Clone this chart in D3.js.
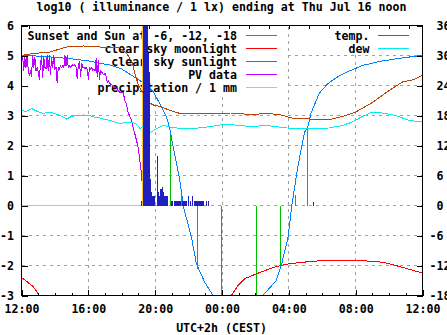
<!DOCTYPE html>
<html><head><meta charset="utf-8">
<script src="https://cdn.jsdelivr.net/npm/d3@7"></script>
<style>
body{margin:0;background:#fff}
svg{display:block}
text{font-family:"DejaVu Sans Mono",monospace;font-weight:bold;font-size:11.6px;fill:#000}
</style></head><body>
<svg id="c" width="447" height="335"></svg>
<script>
// ---------- data ----------
const titleText = "log10 ( illuminance / 1 lx) ending at Thu Jul 16 noon";
const xLabel = "UTC+2h (CEST)";
const xTickHours = [0,4,8,12,16,20,24];           // hours after 12:00
const xTickLabels = ["12:00","16:00","20:00","00:00","04:00","08:00","12:00"];
const xMinorHours = d3.range(0,25,1);
const yTicks = [-3,-2,-1,0,1,2,3,4,5,6];
const y2Ticks = [-18,-12,-6,0,6,12,18,24,30,36];
const gridHours = [4,8,12,16,20];
const gridVals = [-2,-1,0,1,2,3,4,5];
const x2Ticks = d3.range(0,20,1);

const legendLeft = ["Sunset and Sun at -6, -12, -18","clear sky moonlight","clear sky sunlight","PV data","precipitation / 1 mm"];
const legendLeftColors = ["#00c000","#ff0000","#0080ff","#c000ff","#ffc020"];
const legendRight = ["temp.","dew"];
const legendRightColors = ["#c04000","#00eeee"];

// sun events: sunset, -6, -12, -18 (evening) and -18, -12, -6, sunrise (morning)
const sunEventHours = [8.93,9.59,10.54,11.98,14.08,15.51,16.37,17.1];
const sunEventVals  = [2.52,0.34,-2.1,-3.5,-3.5,-2.03,0.34,2.63];

const moonHours = [0,0.35,0.7,1.07,1.6,12.2,12.56,12.96,13.36,14.05,14.85,15.49,16.04,17.23,18.2,19.2,20.22,21.61,22.6,23.8,24];
const moonVals  = [-2.4,-2.55,-2.7,-3.0,-3.5,-3.5,-3.0,-2.67,-2.44,-2.28,-2.11,-2.0,-1.94,-1.87,-1.83,-1.83,-1.83,-1.89,-2.03,-2.22,-2.25];

const sunHours = [0,1,2,3,4,4.7,5.3,6,6.5,7,7.5,7.9,8.28,8.68,8.86,9.06,9.26,9.46,9.6,9.72,10.17,10.47,10.97,11.46,12.0,13.0,14.0,14.45,15.25,15.55,15.94,16.18,16.54,16.94,17.13,17.34,17.83,18.33,19.03,19.43,19.82,20.42,20.82,21.41,22.0,22.8,23.8,24];
const sunVals  = [5.0,4.98,4.94,4.89,4.82,4.74,4.68,4.55,4.37,4.2,4.0,3.78,3.39,2.94,2.6,2.0,1.44,0.89,0.35,-0.1,-1.06,-1.95,-2.56,-3.0,-3.6,-4.0,-3.5,-3.0,-2.5,-2.0,-1.1,0,1.3,2.44,2.61,3.1,3.75,4.06,4.33,4.44,4.53,4.67,4.72,4.8,4.85,4.92,4.99,5.0];

// PV data: 4-minute samples from 12:00, then the evening decline (minutes after 12:00)
const pvNoon = [4.7,5.0,4.5,4.95,4.6,5.0,4.55,4.35,4.45,4.3,5.0,4.6,4.95,4.5,4.6,4.45,4.2,4.7,5.0,4.25,
  4.95,4.6,4.55,5.0,4.5,5.0,4.35,4.95,4.6,5.0,4.55,4.6,4.1,4.6,4.55,4.65,4.6,4.65,4.6,5.0,
  4.65,5.0,4.6,4.67,4.6,4.65,4.7,4.65,4.7,4.6,4.22,4.65,4.8,4.3,4.75,4.6,4.6,4.55,4.6,4.55,
  4.2,4.6,4.55,4.6,4.5,4.55,4.5,4.9,4.3,4.85,4.2,4.5,4.45,4.4,4.35,4.4,4.3,4.1,4.15];
const pvEveMinutes = [318,336,353,365,371,377,383,395,401,407,413,419,425,431,433];
const pvEveVals    = [4.06,3.94,3.78,3.78,3.5,3.39,3.1,2.85,2.6,2.39,2.17,1.94,1.5,1.06,0.78];

const precipHours = [0,7.24,7.26,24];
const precipVals  = [0,0,9,9];

// rain bars: minutes after 19:00
const rainMinutes = [10,18,22,26,30,33.5,37,40,44,47.5,51,54.5,58,67,70.5,74,81,85,88.5,92,95.5,99,102.5,
  120,130,135,139,143,146.5,152,160,166,170,173,179.6,186,194,200,204,208,214,218,222,226,230,234,245,252,628];
const rainVals = [0.15,8,8,8,8,8,5.1,4.44,0.89,0.44,0.31,0.31,0.31,1.64,0.44,0.31,0.56,0.61,0.44,0.31,0.31,0.31,0.31,
  0.15,0.15,0.15,0.15,0.15,0.15,0.15,0.15,0.15,0.15,0.15,0.31,0.15,0.31,0.15,0.15,0.15,0.15,0.15,0.15,0.15,0.15,0.15,0.15,0.15,0.12];

const tempHours = [0,0.7,1.7,2.7,3.7,4.7,5.3,5.9,6.3,6.6,6.8,7.0,7.3,7.5,7.9,8.3,8.9,9.5,10.3,11.1,12.5,13.7,14.7,15.4,16.2,17.2,18.6,19.4,20.0,21.0,22.0,22.8,23.4,24];
const tempC = [30.0,30.4,30.7,31.7,31.9,31.7,31.7,31.5,30.4,28.8,26.3,24.0,22.3,20.8,20.1,19.8,19.0,18.4,18.4,18.5,18.5,18.2,18.4,18.2,17.5,17.3,17.3,18.0,18.7,20.6,23.0,24.7,25.1,26.0];

const dewHours = [0,0.3,0.6,0.9,1.3,1.6,1.9,2.3,2.7,3.0,3.3,3.7,4.1,4.4,4.7,5.0,5.3,5.6,5.9,6.3,6.6,6.9,7.1,7.3,7.5,7.7,7.9,8.1,8.5,8.9,9.5,10.3,11.1,11.9,12.5,13.7,14.7,15.9,17.0,18.4,19.2,19.8,20.4,21.0,21.6,22.4,23.2,24];
const dewC = [19.0,18.8,19.4,18.9,18.4,18.7,18.5,18.0,17.3,17.8,18.0,18.1,18.0,17.6,17.5,17.2,17.0,16.7,16.4,16.6,16.7,16.2,15.4,15.9,15.7,14.6,15.0,15.4,16.0,15.7,15.4,15.4,15.7,16.1,16.2,15.8,16.0,15.5,15.4,15.5,16.0,16.7,17.8,18.7,18.5,18.0,17.0,16.7];

// ---------- chart ----------
const svg = d3.select("#c");
const X0 = 21.5, X1 = 422.5, Y0 = 25.5, Y1 = 295.5;
const x = d3.scaleLinear().domain([0,24]).range([X0,X1]);
const y = d3.scaleLinear().domain([-3,6]).range([Y1,Y0]);
const y2 = d3.scaleLinear().domain([-18,36]).range([Y1,Y0]);
const x2 = d3.scaleLinear().domain([-0.39, -0.39 + (X1-X0)/20]).range([X0,X1]);

svg.append("defs").append("clipPath").attr("id","clip")
  .append("rect").attr("x",X0).attr("y",Y0).attr("width",X1-X0).attr("height",Y1-Y0);

// grid
const grid = svg.append("g").attr("stroke","#a0a0a0").attr("stroke-dasharray","3,4").attr("shape-rendering","crispEdges");
grid.selectAll("line.v").data(gridHours).join("line").attr("class","v")
  .attr("x1",d=>x(d)).attr("x2",d=>x(d)).attr("y1",Y1).attr("y2",Y0);
grid.selectAll("line.h").data(gridVals).join("line").attr("class","h")
  .attr("x1",X0).attr("x2",X1).attr("y1",d=>y(d)).attr("y2",d=>y(d));

// key areas blank the grid
svg.append("rect").attr("x",X0+0.5).attr("y",Y0+0.5).attr("width",262).attr("height",67).attr("fill","#fff");
svg.append("rect").attr("x",292).attr("y",Y0+0.5).attr("width",X1-292-0.5).attr("height",28).attr("fill","#fff");

// key
const key = svg.append("g");
legendLeft.forEach((t,i)=>{
  const yy = 35.5 + i*13;
  key.append("text").attr("x",237).attr("y",yy+4).attr("text-anchor","end").text(t);
  key.append("line").attr("x1",245.5).attr("x2",277).attr("y1",yy).attr("y2",yy)
    .attr("stroke",legendLeftColors[i]).attr("shape-rendering","crispEdges");
});
legendRight.forEach((t,i)=>{
  const yy = 35.5 + i*13;
  key.append("text").attr("x",369.5).attr("y",yy+4).attr("text-anchor","end").text(t);
  key.append("line").attr("x1",377.5).attr("x2",409).attr("y1",yy).attr("y2",yy)
    .attr("stroke",legendRightColors[i]).attr("shape-rendering","crispEdges");
});

// data
const plot = svg.append("g").attr("clip-path","url(#clip)");
const lineY = d3.line().x(d=>x(d[0])).y(d=>y(d[1]));
const lineY2 = d3.line().x(d=>x(d[0])).y(d=>y2(d[1]));
function path(data, gen, color){
  plot.append("path").datum(data).attr("d",gen).attr("fill","none")
    .attr("stroke",color).attr("stroke-width",1).attr("shape-rendering","crispEdges");
}

// sunset / twilight markers
plot.append("g").selectAll("line").data(sunEventHours.map((h,i)=>[h,sunEventVals[i]])).join("line")
  .attr("x1",d=>x(d[0])).attr("x2",d=>x(d[0])).attr("y1",y(0)).attr("y2",d=>y(d[1]))
  .attr("stroke","#00c000").attr("shape-rendering","crispEdges");

path(moonHours.map((h,i)=>[h,moonVals[i]]), lineY, "#ff0000");
path(sunHours.map((h,i)=>[h,sunVals[i]]), lineY, "#0080ff");
const pvData = pvNoon.map((v,i)=>[i*4/60, v]).concat(pvEveMinutes.map((m,i)=>[m/60, pvEveVals[i]]));
path(pvData, lineY, "#c000ff");
path(precipHours.map((h,i)=>[h,precipVals[i]]), lineY, "#ffc020");
path(tempHours.map((h,i)=>[h,tempC[i]]), lineY2, "#c04000");
path(dewHours.map((h,i)=>[h,dewC[i]]), lineY2, "#00eeee");

plot.append("g").selectAll("rect").data(rainMinutes.map((m,i)=>[7+m/60, rainVals[i]])).join("rect")
  .attr("x",d=>x(d[0])-0.6).attr("width",1.3)
  .attr("y",d=>y(d[1])).attr("height",d=>y(0)+0.5-y(d[1]))
  .attr("fill","#2020c0").attr("shape-rendering","crispEdges");

// axes
const gL = svg.append("g").attr("transform",`translate(${X0},0)`)
  .call(d3.axisLeft(y).tickValues(yTicks).tickSize(-6).tickPadding(7.5).tickFormat(d=>String(d)));
const gR = svg.append("g").attr("transform",`translate(${X1},0)`)
  .call(d3.axisRight(y2).tickValues(y2Ticks).tickSize(-6).tickPadding(7).tickFormat(d=>d<0?String(d):"\u00a0"+d));
const gB = svg.append("g").attr("transform",`translate(0,${Y1})`)
  .call(d3.axisBottom(x).tickValues(xTickHours).tickSize(-6).tickFormat((d,i)=>xTickLabels[i]));
gB.selectAll("text").attr("dy",null).attr("y",17.8);
const gBm = svg.append("g").attr("transform",`translate(0,${Y1})`)
  .call(d3.axisBottom(x).tickValues(xMinorHours).tickSize(-3).tickFormat(""));
const gT = svg.append("g").attr("transform",`translate(0,${Y0})`)
  .call(d3.axisTop(x2).tickValues(x2Ticks).tickSize(-3).tickFormat(""));
[gL,gR,gB,gBm,gT].forEach(g=>{
  g.select(".domain").remove();
  g.attr("font-family",null).attr("font-size",null);
  g.selectAll("line").attr("shape-rendering","crispEdges");
});

svg.append("rect").attr("x",X0).attr("y",Y0).attr("width",X1-X0).attr("height",Y1-Y0)
  .attr("fill","none").attr("stroke","#000").attr("shape-rendering","crispEdges");

svg.append("text").attr("x",221.5).attr("y",10.5).attr("text-anchor","middle").text(titleText);
svg.append("text").attr("x",221.5).attr("y",331.5).attr("text-anchor","middle").text(xLabel);
</script>
</body></html>
